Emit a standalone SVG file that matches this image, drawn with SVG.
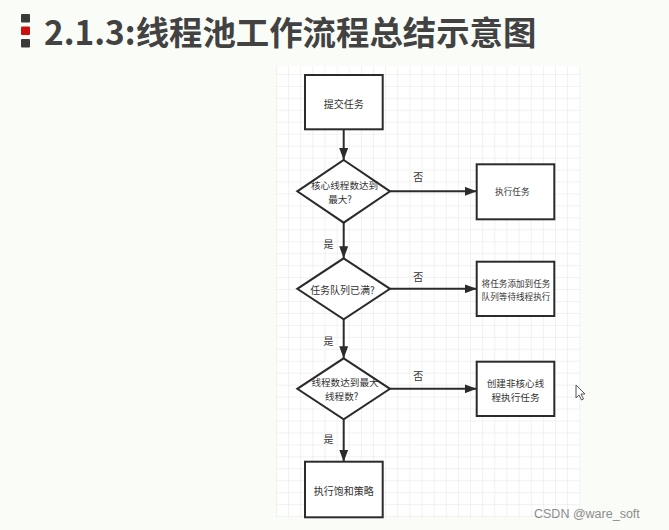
<svg xmlns="http://www.w3.org/2000/svg" width="669" height="530" viewBox="0 0 669 530">
  <style>
    .bg { fill: #f9fcf7; }
    .box { fill: #ffffff; stroke: #2b2b2b; stroke-width: 2; }
    .conn { stroke: #2b2b2b; stroke-width: 2; fill: none; }
    .t { font-family: "Noto Sans CJK SC", "Liberation Sans", sans-serif; fill: #333333; text-anchor: middle; dominant-baseline: central; }
    .t10 { font-size: 10px; }
    .t2 { font-size: 9.6px; }
    .t9 { font-size: 8.6px; }
    .lbl { font-family: "Noto Sans CJK SC", "Liberation Sans", sans-serif; fill: #333333; font-size: 10px; text-anchor: middle; dominant-baseline: central; }
    .title { font-family: "Noto Sans CJK SC", "Liberation Sans", sans-serif; font-weight: bold; font-size: 33.4px; fill: #424242; }
    .wm { font-family: "Liberation Sans", "Noto Sans", sans-serif; font-size: 12.5px; fill: #8c8c8c; }
  </style>
  <defs>
    <pattern id="grid" x="276" y="62" width="12.13" height="11.95" patternUnits="userSpaceOnUse">
      <path d="M0,0 V11.95 M0,0 H12.13" stroke="#e2e6e1" stroke-width="1" fill="none"/>
    </pattern>
    <marker id="arr" markerUnits="userSpaceOnUse" markerWidth="12" markerHeight="9" refX="12" refY="4.5" orient="auto">
      <path d="M0,0 L12,4.5 L0,9 z" fill="#2b2b2b"/>
    </marker>
  </defs>

  <rect class="bg" x="0" y="0" width="669" height="530"/>

  <!-- title -->
  <g id="title">
    <rect x="21" y="14" width="9" height="8.5" rx="1" fill="#3a3a3a"/>
    <rect x="21" y="26.5" width="9" height="8.5" rx="1" fill="#cc1010"/>
    <rect x="21" y="39" width="9" height="8.5" rx="1" fill="#3a3a3a"/>
    <text class="title" x="44" y="45">2.1.3:线程池工作流程总结示意图</text>
  </g>

  <!-- grid canvas -->
  <rect x="276" y="66" width="304" height="452" fill="#ffffff"/>
  <rect x="276" y="66" width="304.5" height="452" fill="url(#grid)"/>

  <!-- connectors -->
  <g id="connectors">
    <line class="conn" x1="343.7" y1="129.5" x2="343.7" y2="160" marker-end="url(#arr)"/>
    <line class="conn" x1="343.7" y1="222.7" x2="343.7" y2="258.3" marker-end="url(#arr)"/>
    <line class="conn" x1="343.7" y1="319.3" x2="343.7" y2="358.3" marker-end="url(#arr)"/>
    <line class="conn" x1="343.7" y1="419.3" x2="343.7" y2="461.7" marker-end="url(#arr)"/>
    <line class="conn" x1="390" y1="191.3" x2="476.7" y2="191.3" marker-end="url(#arr)"/>
    <line class="conn" x1="390" y1="288.8" x2="476.7" y2="288.8" marker-end="url(#arr)"/>
    <line class="conn" x1="390" y1="388.8" x2="476.7" y2="388.8" marker-end="url(#arr)"/>
    <text class="lbl" x="418.3" y="176.7">否</text>
    <text class="lbl" x="418.3" y="276.7">否</text>
    <text class="lbl" x="418.3" y="375">否</text>
    <text class="lbl" x="328.5" y="243">是</text>
    <text class="lbl" x="328.5" y="340">是</text>
    <text class="lbl" x="328.5" y="438.3">是</text>
  </g>

  <g id="submit">
    <rect class="box" x="305" y="75" width="77.7" height="54.3"/>
    <text class="t t10" x="343.7" y="103">提交任务</text>
  </g>

  <g id="decision-core">
    <polygon class="box" points="343.7,160 390,191.3 343.7,222.7 297.3,191.3"/>
    <text class="t t2" x="344.6" y="185">核心线程数达到</text>
    <text class="t t2" x="340" y="199">最大?</text>
  </g>

  <g id="exec-task">
    <rect class="box" x="476.7" y="164.3" width="77.6" height="55"/>
    <text class="t t9" x="512.3" y="190.7">执行任务</text>
  </g>

  <g id="decision-queue">
    <polygon class="box" points="343.7,258.3 390,288.8 343.7,319.3 297.3,288.8"/>
    <text class="t t10" x="342.5" y="289.5">任务队列已满?</text>
  </g>

  <g id="enqueue">
    <rect class="box" x="476.7" y="261.7" width="77.6" height="54.3"/>
    <text class="t t9" x="516" y="282.8">将任务添加到任务</text>
    <text class="t t9" x="516" y="295.6">队列等待线程执行</text>
  </g>

  <g id="decision-max">
    <polygon class="box" points="343.7,358.3 390,388.8 343.7,419.3 297.3,388.8"/>
    <text class="t t2" x="345" y="382">线程数达到最大</text>
    <text class="t t2" x="341.7" y="396">线程数?</text>
  </g>

  <g id="create-thread">
    <rect class="box" x="476.7" y="361.7" width="77.6" height="54.3"/>
    <text class="t t2" x="515.5" y="383">创建非核心线</text>
    <text class="t t2" x="515.5" y="397">程执行任务</text>
  </g>

  <g id="reject">
    <rect class="box" x="305" y="461.7" width="77.7" height="55.6"/>
    <text class="t t10" x="343.7" y="490">执行饱和策略</text>
  </g>

  <!-- mouse pointer -->
  <path d="M576,385 L576,398 L579,395 L581.5,400 L583.5,399 L581,394 L585,394 z" fill="#ffffff" stroke="#555555" stroke-width="1" stroke-linejoin="round"/>

  <text class="wm" x="534" y="518">CSDN @ware_soft</text>
</svg>
